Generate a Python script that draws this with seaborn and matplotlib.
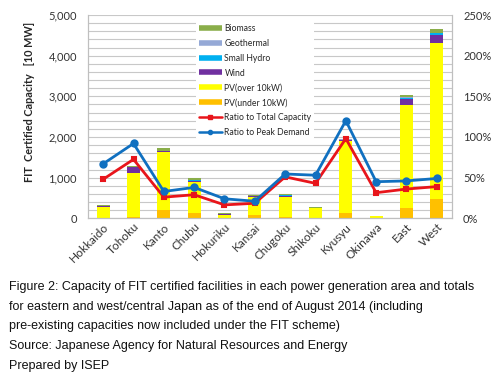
import numpy as np
import pandas as pd
import matplotlib
matplotlib.use("Agg")
import matplotlib.pyplot as plt
import seaborn as sns
from matplotlib.lines import Line2D
from matplotlib.ticker import MultipleLocator, FuncFormatter

regions = ["Hokkaido", "Tohoku", "Kanto", "Chubu", "Hokuriku", "Kansai",
           "Chugoku", "Shikoku", "Kyusyu", "Okinawa", "East", "West"]

# capacity in 10 MW
pv_under = [15, 40, 200, 140, 10, 80, 40, 15, 120, 5, 250, 480]
pv_over = [255, 1070, 1440, 760, 75, 450, 490, 235, 1780, 45, 2540, 3830]
wind = [30, 140, 10, 20, 10, 15, 30, 10, 30, 3, 150, 200]
small_hydro = [10, 10, 10, 20, 15, 5, 5, 5, 5, 0, 30, 40]
geothermal = [5, 5, 0, 0, 0, 0, 0, 0, 5, 0, 10, 5]
biomass = [15, 25, 70, 40, 20, 25, 35, 10, 20, 5, 60, 100]

# ratios in %
ratio_total = [48, 72.5, 26, 29, 16.5, 18.5, 51, 43, 98, 31.5, 36, 39]
ratio_peak = [67, 92, 33, 38, 24, 21, 54.5, 53, 120, 45, 46, 49]

layers = [("PV(under 10kW)", pv_under, "#ffc000"),
          ("PV(over 10kW)", pv_over, "#ffff00"),
          ("Wind", wind, "#7030a0"),
          ("Small Hydro", small_hydro, "#00b0f0"),
          ("Geothermal", geothermal, "#95a9d6"),
          ("Biomass", biomass, "#8aae4a")]

sns.set_style("white")
plt.rcParams["font.family"] = ["Lato", "DejaVu Sans"]

fig = plt.figure(figsize=(5, 3.82), dpi=100)
ax = fig.add_axes([0.176, 0.4285, 0.728, 0.5322])

# stacked bars: draw cumulative sums from top layer down
cum = np.cumsum([np.array(v, dtype=float) for _, v, _ in layers], axis=0)
for i in range(len(layers) - 1, -1, -1):
    df = pd.DataFrame({"region": regions, "val": cum[i]})
    sns.barplot(data=df, x="region", y="val", color=layers[i][2], width=0.43,
                saturation=1, ax=ax, zorder=2, linewidth=0)

ax.set_ylim(0, 5000)
ax.set_xlim(-0.5, 11.5)
ax.yaxis.set_major_locator(MultipleLocator(1000))
ax.yaxis.set_minor_locator(MultipleLocator(200))
ax.yaxis.set_major_formatter(FuncFormatter(lambda v, p: f"{int(v):,}"))
ax.grid(True, which="both", axis="y", color="#c8c8c8", lw=0.8, zorder=0)
ax.set_axisbelow(True)
ax.set_xlabel("")
ax.set_ylabel("FIT  Certified Capacity   [10 MW]", fontsize=7.8, fontweight="bold")
ax.yaxis.set_label_coords(-0.146, 0.572)
ax.tick_params(axis="y", which="both", labelsize=8, colors="#333333", length=0, pad=8)
ax.tick_params(axis="x", labelsize=8.5, colors="#333333", length=0, pad=2)
for lab in ax.get_xticklabels():
    lab.set_rotation(45)
    lab.set_ha("right")
    lab.set_rotation_mode("anchor")
for s in ax.spines.values():
    s.set_color("#bfbfbf")
    s.set_linewidth(0.8)
ax.spines["top"].set_visible(False)

ax2 = ax.twinx()
lines_df = pd.DataFrame({"region": regions, "total": ratio_total, "peak": ratio_peak})
sns.pointplot(data=lines_df, x="region", y="total", color="#e8151b", markers="s",
              markersize=3.5, linewidth=2, ax=ax2)
sns.pointplot(data=lines_df, x="region", y="peak", color="#1070c0", markers="o",
              markersize=4.5, linewidth=2, ax=ax2)
ax2.set_ylim(0, 250)
ax2.set_xlim(-0.5, 11.5)
ax2.yaxis.set_major_locator(MultipleLocator(50))
ax2.yaxis.set_major_formatter(FuncFormatter(lambda v, p: f"{int(v)}%"))
ax2.set_ylabel("")
ax2.set_xlabel("")
ax2.tick_params(axis="y", which="both", labelsize=8, colors="#333333", length=0, pad=8)
for s in ax2.spines.values():
    s.set_color("#bfbfbf")
    s.set_linewidth(0.8)
ax2.spines["top"].set_visible(False)

handles = []
for name, _, col in layers[::-1]:
    handles.append(Line2D([0], [0], color=col, lw=4, solid_capstyle="butt", label=name))
handles.append(Line2D([0], [0], color="#e8151b", lw=1.8, marker="s", markersize=3,
                      label="Ratio to Total Capacity"))
handles.append(Line2D([0], [0], color="#1070c0", lw=1.8, marker="o", markersize=3,
                      label="Ratio to Peak Demand"))
leg = ax2.legend(handles=handles, loc="upper left", bbox_to_anchor=(0.285, 0.99),
                 fontsize=6.2, frameon=True, framealpha=1, edgecolor="none",
                 handlelength=2.7, handletextpad=0.3, labelspacing=0.68,
                 borderpad=0.3)
leg.get_frame().set_facecolor("white")

caption = ["Figure 2: Capacity of FIT certified facilities in each power generation area and totals",
           "for eastern and west/central Japan as of the end of August 2014 (including",
           "pre-existing capacities now included under the FIT scheme)",
           "Source: Japanese Agency for Natural Resources and Energy",
           "Prepared by ISEP"]
for i, line in enumerate(caption):
    y = 287 + i * 19.7
    fig.text(9 / 500, 1 - y / 382, line, fontsize=9.0, family="Liberation Sans",
             va="center", ha="left", color="#111111")

fig.savefig("out.png", dpi=100)
